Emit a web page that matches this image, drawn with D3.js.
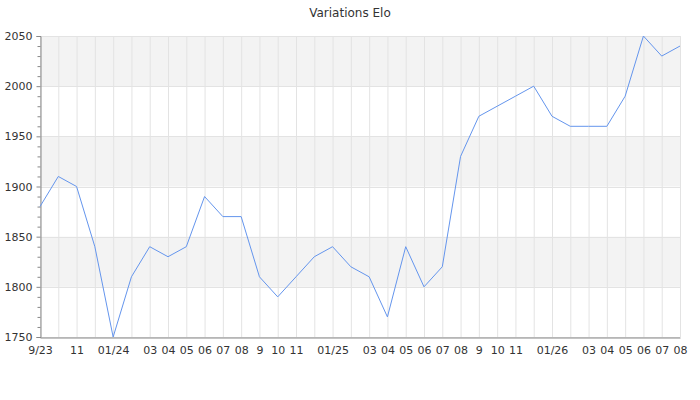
<!DOCTYPE html>
<html>
<head>
<meta charset="utf-8">
<script src="https://cdn.jsdelivr.net/npm/d3@7"></script>
<style>
  html, body { margin: 0; padding: 0; background: #fff; }
  svg { display: block; font-family: "DejaVu Sans", sans-serif; }
</style>
</head>
<body>
<svg id="chart" width="700" height="400"></svg>
<script>
const months = ["2023-09","2023-10","2023-11","2023-12","2024-01","2024-02","2024-03","2024-04","2024-05","2024-06","2024-07","2024-08","2024-09","2024-10","2024-11","2024-12","2025-01","2025-02","2025-03","2025-04","2025-05","2025-06","2025-07","2025-08","2025-09","2025-10","2025-11","2025-12","2026-01","2026-02","2026-03","2026-04","2026-05","2026-06","2026-07","2026-08"];
const tickLabels = ["9/23","","11","","01/24","","03","04","05","06","07","08","9","10","11","","01/25","","03","04","05","06","07","08","9","10","11","","01/26","","03","04","05","06","07","08"];
const elo = [1880,1910,1900,1840,1750,1810,1840,1830,1840,1890,1870,1870,1810,1790,1810,1830,1840,1820,1810,1770,1840,1800,1820,1930,1970,1980,1990,2000,1970,1960,1960,1960,1990,2050,2030,2040];
const yMajor = [1750,1800,1850,1900,1950,2000,2050];
const yMinor = [1760,1770,1780,1790,1810,1820,1830,1840,1860,1870,1880,1890,1910,1920,1930,1940,1960,1970,1980,1990,2010,2020,2030,2040];
const title = "Variations Elo";

(function () {
const svg = d3.select("#chart");
const mLeft = 40, mRight = 680, mTop = 36, mBottom = 337;

const x = d3.scalePoint().domain(months).range([mLeft, mRight]);
const y = d3.scaleLinear().domain([1750, 2050]).range([mBottom, mTop]);

// alternating bands
const bands = [];
for (let i = 0; i < yMajor.length - 1; i++) {
  if (i % 2 === 1) bands.push([yMajor[i], yMajor[i + 1]]);
}
svg.append("g").selectAll("rect").data(bands).join("rect")
  .attr("x", mLeft).attr("width", mRight - mLeft)
  .attr("y", d => y(d[1])).attr("height", d => y(d[0]) - y(d[1]))
  .attr("fill", "#f3f3f3");

// vertical grid
svg.append("g").selectAll("line").data(months).join("line")
  .attr("x1", d => x(d) + 0.5).attr("x2", d => x(d) + 0.5)
  .attr("y1", mTop).attr("y2", mBottom)
  .attr("stroke", "#e3e3e3").attr("stroke-width", 1);

// horizontal grid
svg.append("g").selectAll("line").data(yMajor).join("line")
  .attr("x1", mLeft).attr("x2", mRight)
  .attr("y1", d => Math.round(y(d)) + 0.5).attr("y2", d => Math.round(y(d)) + 0.5)
  .attr("stroke", "#e3e3e3").attr("stroke-width", 1);

// y axis
const yAxis = d3.axisLeft(y).tickValues(yMajor).tickSize(4).tickPadding(4).tickFormat(d3.format("d"));
const gy = svg.append("g").attr("transform", `translate(${mLeft + 0.5},0)`).call(yAxis);
gy.select(".domain").attr("stroke", "#888");
gy.selectAll(".tick line").attr("stroke", "#888");
gy.selectAll(".tick text").attr("fill", "#333").style("font-size", "11px").style("font-family", "DejaVu Sans");
const gyMinor = svg.append("g").attr("transform", `translate(${mLeft + 0.5},0)`)
  .call(d3.axisLeft(y).tickValues(yMinor).tickSize(3).tickFormat(""));
gyMinor.select(".domain").remove();
gyMinor.selectAll(".tick line").attr("stroke", "#888");

// x axis
const xAxis = d3.axisBottom(x).tickSize(0).tickPadding(9).tickFormat((d, i) => tickLabels[i]);
const gx = svg.append("g").attr("transform", `translate(0,${mBottom + 0.5})`).call(xAxis);
gx.select(".domain").attr("stroke", "#888");
gx.selectAll(".tick text").attr("fill", "#333").style("font-size", "11px").style("font-family", "DejaVu Sans");

// line
const line = d3.line().x((d, i) => x(months[i])).y(d => y(d));
svg.append("path").datum(elo)
  .attr("d", line)
  .attr("fill", "none")
  .attr("stroke", "#6495ed")
  .attr("stroke-width", 1);

// title
svg.append("text").attr("x", 350).attr("y", 17).attr("text-anchor", "middle")
  .attr("fill", "#333").style("font-size", "12px").text(title);
})();
</script>
</body>
</html>
